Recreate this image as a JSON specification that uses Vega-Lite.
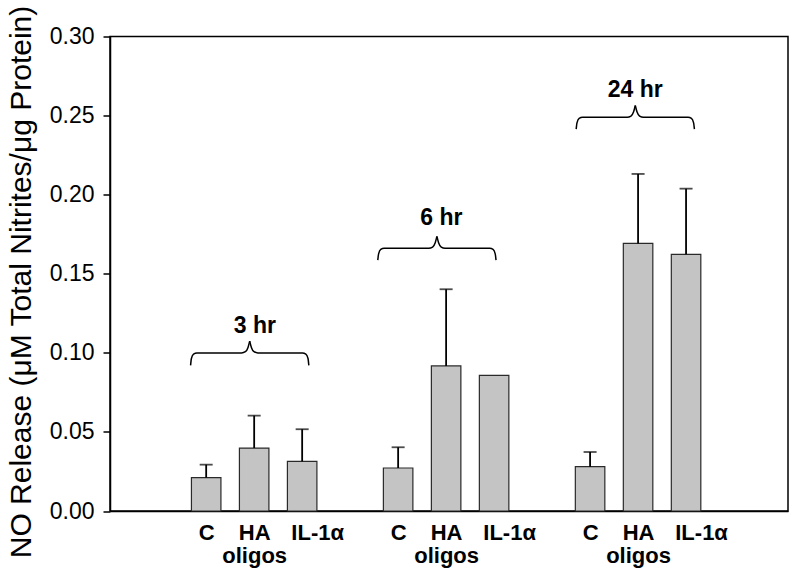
{
  "$schema": "https://vega.github.io/schema/vega-lite/v6.json",
  "width": 678,
  "height": 474.5,
  "autosize": "none",
  "padding": {"left": 110, "top": 36.5, "right": 12, "bottom": 69},
  "background": "white",
  "config": {
    "view": {"stroke": "black", "strokeWidth": 1.5},
    "font": "Liberation Sans"
  },
  "datasets": {
    "bars": [
      {"time": "3 hr", "treatment": "C", "pos": 2, "mean": 0.0211, "upper": 0.0293},
      {"time": "3 hr", "treatment": "HA oligos", "pos": 3, "mean": 0.0398, "upper": 0.0603},
      {"time": "3 hr", "treatment": "IL-1α", "pos": 4, "mean": 0.0314, "upper": 0.0517},
      {"time": "6 hr", "treatment": "C", "pos": 6, "mean": 0.0272, "upper": 0.0403},
      {"time": "6 hr", "treatment": "HA oligos", "pos": 7, "mean": 0.0917, "upper": 0.1402},
      {"time": "6 hr", "treatment": "IL-1α", "pos": 8, "mean": 0.0858, "upper": null},
      {"time": "24 hr", "treatment": "C", "pos": 10, "mean": 0.028, "upper": 0.0373},
      {"time": "24 hr", "treatment": "HA oligos", "pos": 11, "mean": 0.1692, "upper": 0.2131},
      {"time": "24 hr", "treatment": "IL-1α", "pos": 12, "mean": 0.1623, "upper": 0.2038}
    ],
    "braces": [
      {"seg": "3L", "bx": 1.675, "by": 0.0921}, {"seg": "3L", "bx": 1.692, "by": 0.0964}, {"seg": "3L", "bx": 1.737, "by": 0.0992}, {"seg": "3L", "bx": 1.807, "by": 0.0999},
      {"seg": "3L", "bx": 2.737, "by": 0.0999}, {"seg": "3L", "bx": 2.817, "by": 0.1007}, {"seg": "3L", "bx": 2.872, "by": 0.1034}, {"seg": "3L", "bx": 2.907, "by": 0.1074},
      {"seg": "3R", "bx": 2.907, "by": 0.1074}, {"seg": "3R", "bx": 2.942, "by": 0.1034}, {"seg": "3R", "bx": 2.997, "by": 0.1007}, {"seg": "3R", "bx": 3.077, "by": 0.0999},
      {"seg": "3R", "bx": 4.007, "by": 0.0999}, {"seg": "3R", "bx": 4.077, "by": 0.0992}, {"seg": "3R", "bx": 4.122, "by": 0.0964}, {"seg": "3R", "bx": 4.139, "by": 0.0921},
      {"seg": "6L", "bx": 5.576, "by": 0.1586}, {"seg": "6L", "bx": 5.593, "by": 0.1626}, {"seg": "6L", "bx": 5.638, "by": 0.1654}, {"seg": "6L", "bx": 5.708, "by": 0.1661},
      {"seg": "6L", "bx": 6.638, "by": 0.1661}, {"seg": "6L", "bx": 6.718, "by": 0.1669}, {"seg": "6L", "bx": 6.773, "by": 0.1696}, {"seg": "6L", "bx": 6.808, "by": 0.1736},
      {"seg": "6R", "bx": 6.808, "by": 0.1736}, {"seg": "6R", "bx": 6.843, "by": 0.1696}, {"seg": "6R", "bx": 6.898, "by": 0.1669}, {"seg": "6R", "bx": 6.978, "by": 0.1661},
      {"seg": "6R", "bx": 7.908, "by": 0.1661}, {"seg": "6R", "bx": 7.978, "by": 0.1654}, {"seg": "6R", "bx": 8.023, "by": 0.1626}, {"seg": "6R", "bx": 8.04, "by": 0.1586},
      {"seg": "24L", "bx": 9.71, "by": 0.2414}, {"seg": "24L", "bx": 9.727, "by": 0.2454}, {"seg": "24L", "bx": 9.772, "by": 0.2482}, {"seg": "24L", "bx": 9.842, "by": 0.2489},
      {"seg": "24L", "bx": 10.772, "by": 0.2489}, {"seg": "24L", "bx": 10.852, "by": 0.2497}, {"seg": "24L", "bx": 10.907, "by": 0.2524}, {"seg": "24L", "bx": 10.942, "by": 0.2564},
      {"seg": "24R", "bx": 10.942, "by": 0.2564}, {"seg": "24R", "bx": 10.977, "by": 0.2524}, {"seg": "24R", "bx": 11.032, "by": 0.2497}, {"seg": "24R", "bx": 11.112, "by": 0.2489},
      {"seg": "24R", "bx": 12.042, "by": 0.2489}, {"seg": "24R", "bx": 12.112, "by": 0.2482}, {"seg": "24R", "bx": 12.157, "by": 0.2454}, {"seg": "24R", "bx": 12.174, "by": 0.2414}
    ],
    "labels": [
      {"label": "3 hr", "lx": 3.016, "ly": 0.1128},
      {"label": "6 hr", "lx": 6.903, "ly": 0.1808},
      {"label": "24 hr", "lx": 10.94, "ly": 0.262}
    ]
  },
  "layer": [
    {
      "data": {"name": "bars"},
      "mark": {"type": "bar", "orient": "vertical", "width": 29.5, "fill": "#c4c4c4", "stroke": "#2a2a2a", "strokeWidth": 1.2},
      "encoding": {
        "x": {
          "field": "pos", "type": "quantitative", "title": null,
          "scale": {"domain": [0.1, 14.02], "nice": false, "zero": false},
          "axis": {
            "values": [2, 3, 4, 6, 7, 8, 10, 11, 12],
            "labelExpr": "datum.value % 4 == 2 ? 'C' : (datum.value % 4 == 3 ? ['HA', 'oligos'] : 'IL-1α')",
            "labelOffset": {"condition": {"test": "datum.value % 4 == 0", "value": 15}, "value": 0},
            "labelFont": "Liberation Sans", "labelFontSize": 22, "labelFontWeight": "bold", "labelColor": "black",
            "labelLineHeight": 23, "labelBaseline": "top", "labelPadding": 11, "labelOverlap": false, "labelFlush": false,
            "ticks": false, "tickSize": 0, "grid": false,
            "domainColor": "black", "domainWidth": 1.5
          }
        },
        "y": {
          "field": "mean", "type": "quantitative", "title": "NO Release (μM Total Nitrites/μg Protein)",
          "scale": {"domain": [0, 0.3], "nice": false, "zero": true},
          "axis": {
            "titleFont": "Liberation Sans", "titleFontSize": 30, "titleFontWeight": "normal", "titleColor": "black",
            "titleAngle": -90, "titleX": -89, "titleY": 245, "titleAlign": "center", "titleBaseline": "middle",
            "values": [0, 0.05, 0.1, 0.15, 0.2, 0.25, 0.3], "format": ".2f",
            "labelFont": "Liberation Sans", "labelFontSize": 23, "labelColor": "black", "labelPadding": 9,
            "tickSize": 7, "tickColor": "black", "tickWidth": 1.5,
            "domainColor": "black", "domainWidth": 1.5, "grid": false
          }
        }
      }
    },
    {
      "data": {"name": "bars"},
      "transform": [{"filter": "isValid(datum.upper)"}],
      "mark": {"type": "rule", "color": "black", "strokeWidth": 1.8},
      "encoding": {
        "x": {"field": "pos", "type": "quantitative", "title": null},
        "y": {"field": "mean", "type": "quantitative", "title": "NO Release (μM Total Nitrites/μg Protein)"},
        "y2": {"field": "upper"}
      }
    },
    {
      "data": {"name": "bars"},
      "transform": [{"filter": "isValid(datum.upper)"}],
      "mark": {"type": "tick", "orient": "horizontal", "color": "black", "size": 13, "thickness": 1.8},
      "encoding": {
        "x": {"field": "pos", "type": "quantitative", "title": null},
        "y": {"field": "upper", "type": "quantitative", "title": "NO Release (μM Total Nitrites/μg Protein)"}
      }
    },
    {
      "data": {"name": "braces"},
      "mark": {"type": "line", "color": "black", "strokeWidth": 1.5, "interpolate": "monotone"},
      "encoding": {
        "x": {"field": "bx", "type": "quantitative", "title": null},
        "y": {"field": "by", "type": "quantitative", "title": "NO Release (μM Total Nitrites/μg Protein)"},
        "detail": {"field": "seg", "type": "nominal"},
        "order": {"field": "bx", "type": "quantitative"}
      }
    },
    {
      "data": {"name": "labels"},
      "mark": {"type": "text", "font": "Liberation Sans", "fontSize": 23, "fontWeight": "bold", "color": "black", "align": "center", "baseline": "alphabetic"},
      "encoding": {
        "x": {"field": "lx", "type": "quantitative", "title": null},
        "y": {"field": "ly", "type": "quantitative", "title": "NO Release (μM Total Nitrites/μg Protein)"},
        "text": {"field": "label", "type": "nominal"}
      }
    }
  ]
}
